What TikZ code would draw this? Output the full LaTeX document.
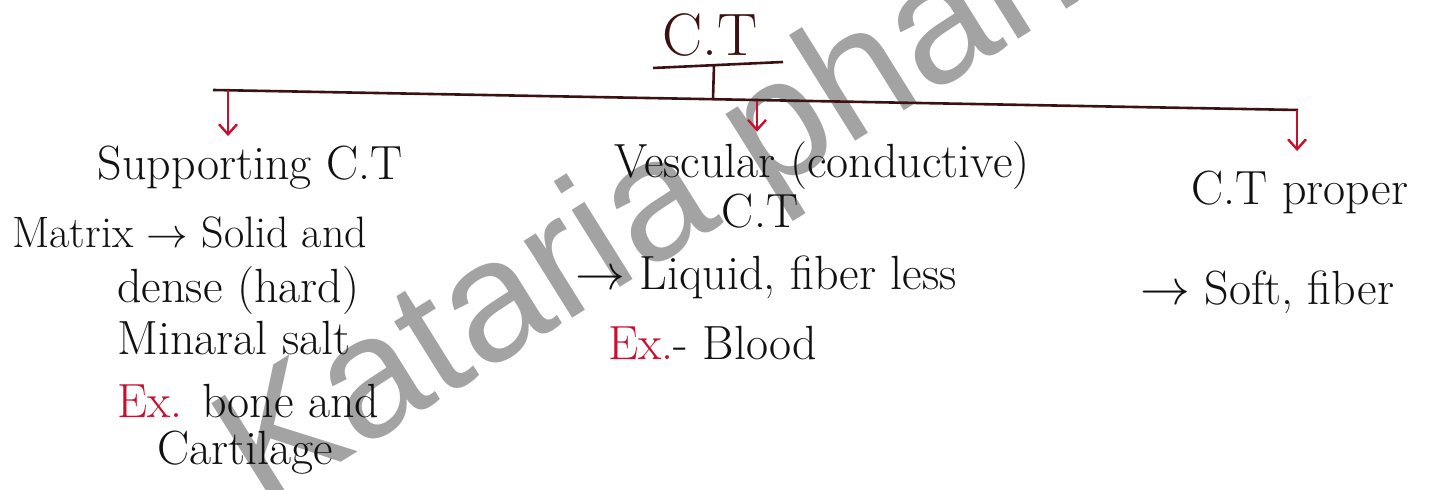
\documentclass[tikz,border=0pt]{standalone}
\usepackage{fontspec}
\newfontfamily\markfont{Liberation Sans}
\usetikzlibrary{positioning,arrows.meta}
\definecolor{ctInk}{HTML}{111111}
\definecolor{ctLine}{HTML}{3A1212}
\definecolor{ctRed}{HTML}{C8102E}
\definecolor{ctMark}{HTML}{A3A3A3}
\tikzset{
  ct-text/.style={font=\fontsize{24}{28}\selectfont, text=ctInk, inner sep=0pt},
  ct-head/.style={font=\fontsize{30}{34}\selectfont, text=ctLine, inner sep=0pt},
  ct-line/.style={draw=ctLine, line width=1.3pt},
  ct-arrow/.style={-{Straight Barb[length=5pt,width=9pt]}, draw=ctRed,
    line width=1.2pt, shorten >=5pt},
  ct-mark/.style={font=\markfont\fontsize{86}{86}\selectfont, text=ctMark,
    inner sep=0pt}
}

\begin{document}
\begin{tikzpicture}[x=0.5pt, y=-0.5pt]
\useasboundingbox (0,0) rectangle (1451,490);
\fill[white] (0,0) rectangle (1451,490);

% watermark
\begin{scope}
\clip (0,0) rectangle (1451,490);
\node[ct-mark, rotate=32, anchor=base west] (mark) at (262,512) {Kataria pharma};
\end{scope}

% root and bar
\node[ct-head, anchor=base] (ct) at (710,56) {C.T};
\coordinate (ulL) at (653,68);
\coordinate (ulR) at (783,62);
\coordinate (stem) at (714,65);
\coordinate (joint) at (713,99);
\coordinate (barL) at (213,90);
\coordinate (barR) at (1298,110);
\coordinate (dropL) at (228,90);
\coordinate (dropM) at (757,101);
\coordinate (dropR) at (1297,110);

% branches
\node[ct-text, anchor=base] (supp) at (250,180) {Supporting C.T};
\node[ct-text, anchor=base] (vasc) at (822,178) {Vescular (conductive)};
\node[ct-text, anchor=base] (vascb) at (760,228) {C.T};
\node[ct-text, anchor=base] (prop) at (1300,205) {C.T proper};

% supporting
\node[ct-text, anchor=base west, font=\fontsize{22}{26}\selectfont] (matrix)
  at (12,248) {Matrix $\rightarrow$ Solid and};
\node[ct-text, anchor=base west] (dense) at (117,303) {dense (hard)};
\node[ct-text, anchor=base west] (salt) at (117,355) {Minaral salt};
\node[ct-text, anchor=base west] (bone) at (117,418)
  {\textcolor{ctRed}{Ex.} bone and};
\node[ct-text, anchor=base west] (cart) at (157,465) {Cartilage};

% vascular
\node[ct-text, anchor=base west] (liquid) at (575,290)
  {$\rightarrow$ Liquid, fiber less};
\node[ct-text, anchor=base west] (blood) at (608,360)
  {\textcolor{ctRed}{Ex.}- Blood};

% proper
\node[ct-text, anchor=base west] (soft) at (1140,305) {$\rightarrow$ Soft, fiber};

\draw[ct-line] (ulL) -- (ulR);
\draw[ct-line] (stem) -- (joint);
\draw[ct-line] (barL) -- (barR);
\draw[ct-arrow] (dropL) -- (dropL |- supp.north);
\draw[ct-arrow] (dropM) -- (dropM |- vasc.north);
\draw[ct-arrow, shorten >=10pt] (dropR) -- (dropR |- prop.north);
\end{tikzpicture}
\end{document}
